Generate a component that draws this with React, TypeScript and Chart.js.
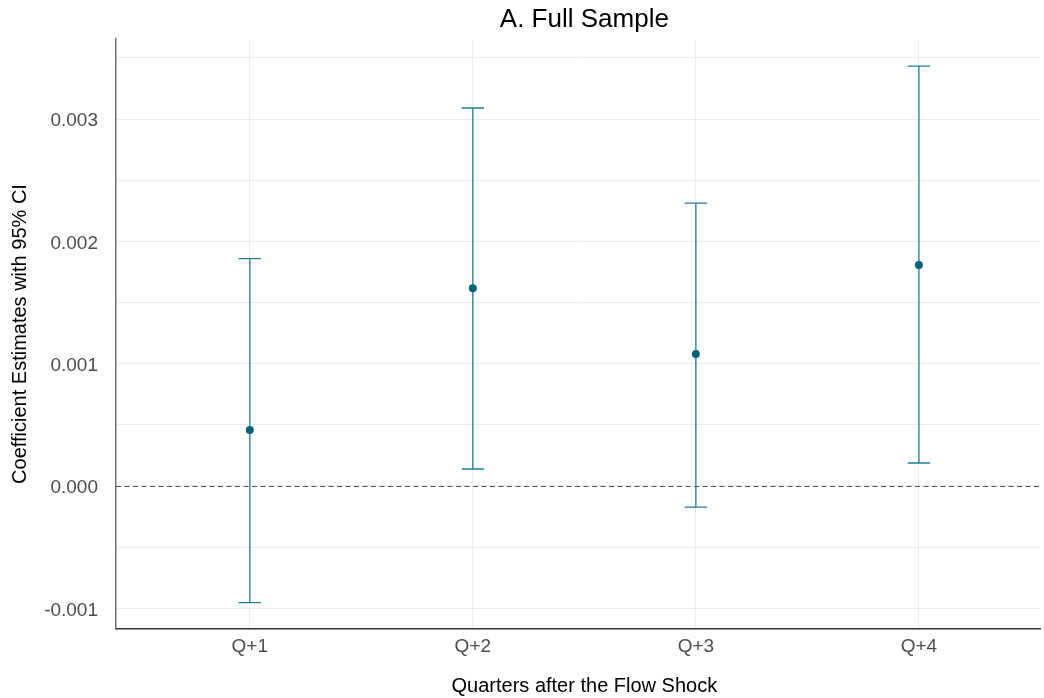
import React, { useEffect, useRef } from "react";
import { Chart, registerables } from "chart.js";

Chart.register(...registerables);

// ---- data ----
const chartTitle = "A. Full Sample";
const xAxisTitle = "Quarters after the Flow Shock";
const yAxisTitle = "Coefficient Estimates with 95% CI";
const categories = ["Q+1", "Q+2", "Q+3", "Q+4"];
const xPositions = [1, 2, 3, 4];
const estimates = [0.000458, 0.001616, 0.001079, 0.001807];
const ciLower = [-0.000954, 0.000139, -0.000172, 0.000188];
const ciUpper = [0.001858, 0.00309, 0.002313, 0.003433];
const yGridValues = [-0.001, -0.0005, 0, 0.0005, 0.001, 0.0015, 0.002, 0.0025, 0.003, 0.0035];
const yGridLabels = ["-0.001", "", "0.000", "", "0.001", "", "0.002", "", "0.003", ""];
const yMin = -0.001169;
const yMax = 0.003654;
const xMin = 0.4;
const xMax = 4.543;
const xPanelCenter = 2.5;
const capHalfWidth = 0.05;

const FONT = "'Liberation Sans', Arial, sans-serif";
const barColor = "#217c98";
const pointColor = "#03627c";

const errorBarPlugin = {
  id: "errorBarsAndTitles",
  beforeDatasetsDraw(chart: any) {
    const { ctx, chartArea } = chart;
    const x = chart.scales.x;
    const y = chart.scales.y;
    ctx.save();
    // zero reference line
    const y0 = Math.round(y.getPixelForValue(0)) + 0.5;
    ctx.strokeStyle = "#555555";
    ctx.lineWidth = 1;
    ctx.setLineDash([5, 3.5]);
    ctx.beginPath();
    ctx.moveTo(chartArea.left, y0);
    ctx.lineTo(chartArea.right, y0);
    ctx.stroke();
    ctx.setLineDash([]);
    // error bars
    ctx.strokeStyle = barColor;
    ctx.lineWidth = 1.3;
    xPositions.forEach((xv, i) => {
      const px = x.getPixelForValue(xv);
      const pl = y.getPixelForValue(ciLower[i]);
      const pu = y.getPixelForValue(ciUpper[i]);
      const cl = x.getPixelForValue(xv - capHalfWidth);
      const cr = x.getPixelForValue(xv + capHalfWidth);
      ctx.beginPath();
      ctx.moveTo(px, pl);
      ctx.lineTo(px, pu);
      ctx.moveTo(cl, pl);
      ctx.lineTo(cr, pl);
      ctx.moveTo(cl, pu);
      ctx.lineTo(cr, pu);
      ctx.stroke();
    });
    ctx.restore();
  },
  afterDraw(chart: any) {
    const { ctx, chartArea } = chart;
    const x = chart.scales.x;
    const cx = x.getPixelForValue(xPanelCenter);
    ctx.save();
    ctx.fillStyle = "#000000";
    ctx.textAlign = "center";
    ctx.textBaseline = "alphabetic";
    ctx.font = `26px ${FONT}`;
    ctx.fillText(chartTitle, cx, 27);
    ctx.font = `20px ${FONT}`;
    ctx.fillText(xAxisTitle, cx, 692);
    ctx.translate(26, (chartArea.top + chartArea.bottom) / 2);
    ctx.rotate(-Math.PI / 2);
    ctx.fillText(yAxisTitle, 0, 0);
    ctx.restore();
  },
};

export default function App() {
  const canvasRef = useRef<HTMLCanvasElement | null>(null);

  useEffect(() => {
    if (!canvasRef.current) return;
    const chart = new Chart(canvasRef.current, {
      type: "scatter",
      data: {
        datasets: [
          {
            label: "Estimate",
            data: xPositions.map((xv, i) => ({ x: xv, y: estimates[i] })),
            backgroundColor: pointColor,
            borderColor: pointColor,
            pointRadius: 4,
            pointBorderWidth: 0,
          },
        ],
      },
      options: {
        responsive: false,
        animation: false,
        devicePixelRatio: 1,
        layout: { padding: { top: 39, left: 0, right: 0, bottom: 0 } },
        plugins: {
          legend: { display: false },
          title: { display: false },
          tooltip: { enabled: false },
        },
        scales: {
          x: {
            type: "linear",
            min: xMin,
            max: xMax,
            afterBuildTicks: (scale: any) => {
              scale.ticks = xPositions.map((v) => ({ value: v }));
            },
            afterFit: (scale: any) => {
              scale.height = 69;
            },
            ticks: {
              callback: (_v: any, i: number) => categories[i],
              color: "#4d4d4d",
              font: { family: FONT, size: 19 },
              padding: 6,
              maxRotation: 0,
              autoSkip: false,
            },
            grid: { color: "#ebebeb", lineWidth: 1, drawTicks: false },
            border: { color: "#333333", width: 1.5 },
          },
          y: {
            type: "linear",
            min: yMin,
            max: yMax,
            afterBuildTicks: (scale: any) => {
              scale.ticks = yGridValues.map((v) => ({ value: v }));
            },
            afterFit: (scale: any) => {
              scale.width = 116;
            },
            ticks: {
              callback: (_v: any, i: number) => yGridLabels[i],
              color: "#4d4d4d",
              font: { family: FONT, size: 19 },
              padding: 18,
              labelOffset: 2,
              autoSkip: false,
            },
            grid: { color: "#ebebeb", lineWidth: 1, drawTicks: false },
            border: { color: "#707070", width: 1.5 },
          },
        },
      },
      plugins: [errorBarPlugin],
    } as any);
    return () => chart.destroy();
  }, []);

  return (
    <div style={{ position: "absolute", left: 0, top: 0, width: 1044, height: 698, background: "#ffffff" }}>
      <canvas ref={canvasRef} width={1044} height={698} style={{ display: "block" }} />
    </div>
  );
}
